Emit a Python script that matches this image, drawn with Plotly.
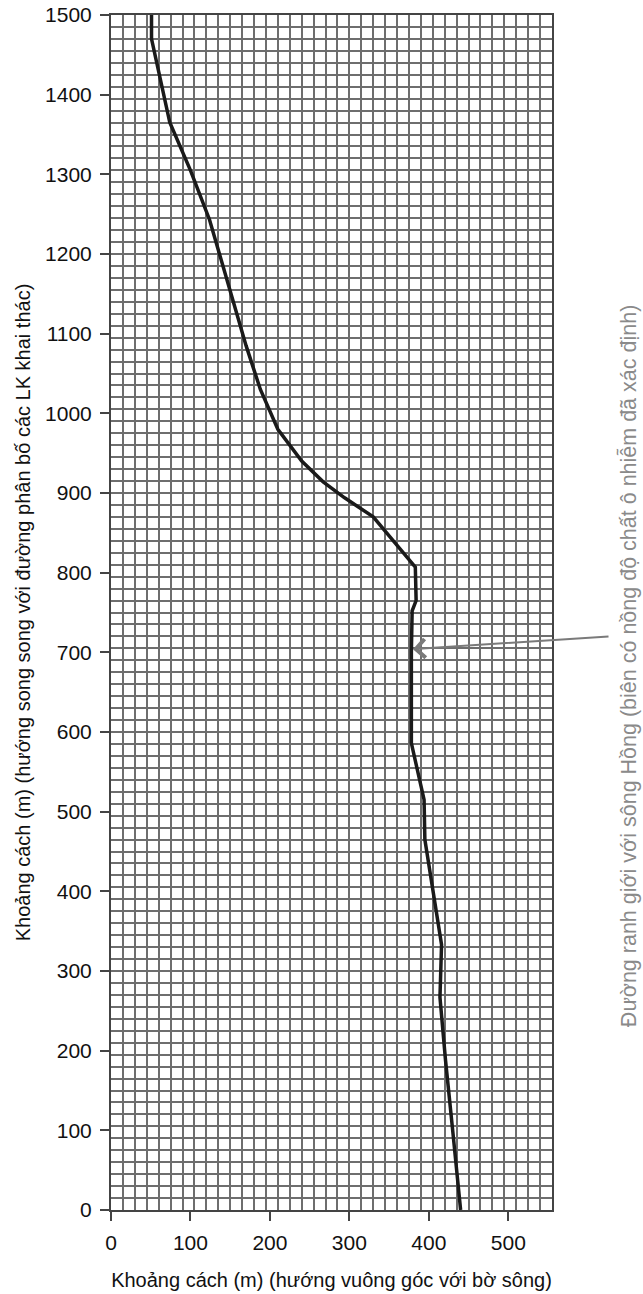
import plotly.graph_objects as go

# Boundary line (distance perpendicular to river bank, distance parallel to wells line)
x_perp = [51, 51, 74, 100, 124, 150, 170, 188, 210, 240, 267, 294, 330, 383, 384, 379, 378, 378, 386, 394, 395, 405, 413, 416, 414, 421, 430, 440]
y_par = [1500, 1470, 1365, 1305, 1243, 1155, 1085, 1030, 980, 940, 914, 894, 870, 807, 765, 752, 700, 586, 552, 515, 465, 400, 350, 333, 267, 188, 100, 0]

x_ticks = [0, 100, 200, 300, 400, 500]
y_ticks = [0, 100, 200, 300, 400, 500, 600, 700, 800, 900, 1000, 1100, 1200, 1300, 1400, 1500]

x_title = "Khoảng cách (m) (hướng vuông góc với bờ sông)"
y_title = "Khoảng cách (m) (hướng song song với đường phân bố các LK khai thác)"
side_label = "Đường ranh giới với sông Hồng (biên có nồng độ chất ô nhiễm đã xác định)"

# arrow: tail (near label) -> head (on line), data units
arrow_tail = (628, 720)
arrow_head = (380, 704)
# side label position in paper units
label_pos = (1.172, 0.455)

FONT = "Liberation Sans, Arial, sans-serif"

fig = go.Figure()
fig.add_trace(go.Scatter(
    x=x_perp, y=y_par, mode="lines",
    line=dict(color="#1a1a1a", width=3.5),
    showlegend=False, hoverinfo="skip",
))

axis_common = dict(
    showgrid=False,
    zeroline=False,
    showline=True,
    linecolor="#444444",
    linewidth=2,
    mirror=True,
    ticks="outside",
    ticklen=9,
    tickwidth=1.5,
    tickcolor="#444444",
    ticklabelstandoff=4,
    tickfont=dict(family=FONT, size=21, color="#111111"),
    minor=dict(tickmode="linear", dtick=15, tick0=0, showgrid=True,
               gridcolor="#6e6e6e", gridwidth=1.5, ticks=""),
)

fig.update_xaxes(
    range=[0, 555], tickmode="array", tickvals=x_ticks,
    ticktext=[str(v) for v in x_ticks],
    title=dict(text=x_title, font=dict(family=FONT, size=20, color="#111111"), standoff=20),
    **axis_common,
)
fig.update_yaxes(
    range=[0, 1500], tickmode="array", tickvals=y_ticks,
    ticktext=[str(v) for v in y_ticks],
    title=dict(text=y_title, font=dict(family=FONT, size=20, color="#111111"), standoff=9),
    **axis_common,
)

fig.add_annotation(
    x=arrow_head[0], y=arrow_head[1], xref="x", yref="y",
    ax=arrow_tail[0], ay=arrow_tail[1], axref="x", ayref="y",
    text="", showarrow=True, arrowhead=4, arrowsize=1.8, arrowwidth=2,
    arrowcolor="#7a7a7a", standoff=0, startstandoff=0,
)
fig.add_annotation(
    x=label_pos[0], y=label_pos[1], xref="paper", yref="paper",
    text=side_label, showarrow=False, textangle=-90,
    font=dict(family=FONT, size=21.5, color="#8a8a8a"),
    xanchor="center", yanchor="middle",
)

fig.update_layout(
    width=643, height=1294,
    margin=dict(l=111, r=91, t=15, b=84, autoexpand=False),
    paper_bgcolor="white", plot_bgcolor="white",
)

fig.write_html("out.html", config={"displayModeBar": False},
               post_script="document.body.style.margin='0';")
